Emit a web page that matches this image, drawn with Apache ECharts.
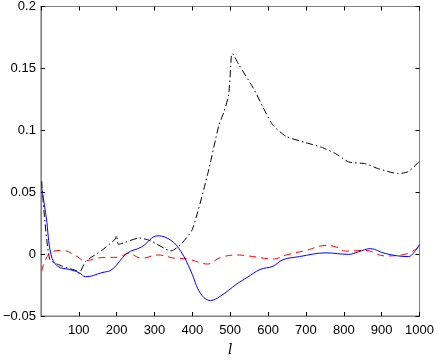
<!DOCTYPE html>
<html>
<head>
<meta charset="utf-8">
<script src="https://cdn.jsdelivr.net/npm/echarts@6/dist/echarts.min.js"></script>
<style>
  html, body { margin: 0; padding: 0; background: #fff; }
  #chart { width: 437px; height: 362px; }
</style>
</head>
<body>
<div id="chart"></div>
<script>
// black dash-dot curve
let blackL = [2, 23, 57, 96, 100, 118, 161, 196, 200, 205, 260, 288, 344, 370, 400, 440, 470, 483, 496, 503, 505, 522, 561, 596, 613, 648, 700, 744, 779, 813, 857, 891, 944, 970, 1000]
let blackV = [0.059, -0.004, -0.0098, -0.0137, -0.016, -0.006, 0.003, 0.012, 0.015, 0.008, 0.013, 0.011, 0.0026, 0.008, 0.02, 0.064, 0.104, 0.1145, 0.129, 0.16, 0.162, 0.1534, 0.134, 0.113, 0.104, 0.095, 0.090, 0.086, 0.081, 0.0744, 0.073, 0.069, 0.065, 0.0666, 0.075]

// red dashed curve
let redL = [2, 23, 57, 96, 114, 161, 205, 231, 266, 309, 353, 388, 440, 474, 518, 561, 613, 648, 700, 753, 779, 805, 857, 909, 961, 1000]
let redV = [-0.0137, 0.0005, 0.003, -0.002, -0.0054, -0.0028, -0.0025, 0.0005, -0.0033, -0.0007, -0.0033, -0.004, -0.008, -0.0028, -0.0007, -0.002, -0.004, -0.0007, 0.003, 0.007, 0.0058, 0.0024, 0.003, -0.0015, -0.0002, 0.006]

// blue solid curve
let blueL = [2, 14, 27, 44, 75, 101, 118, 161, 188, 227, 266, 309, 344, 370, 396, 422, 448, 474, 518, 544, 579, 613, 639, 683, 753, 813, 839, 870, 909, 970, 987, 1000]
let blueV = [0.0537, 0.030, -0.0007, -0.0098, -0.0124, -0.015, -0.0183, -0.015, -0.0124, 0.0005, 0.0058, 0.0148, 0.011, 0.002, -0.0137, -0.032, -0.0375, -0.034, -0.024, -0.019, -0.0124, -0.0098, -0.0046, -0.002, 0.001, -0.0002, 0.0019, 0.0044, 0.0005, -0.002, 0.002, 0.008]

function pairs(xs, ys) {
    return xs.map((x, i) => [x, ys[i]])
}

let font = 'Liberation Sans, Arial, sans-serif'
let chart = echarts.init(document.getElementById('chart'))

let option = {
    animation: false,
    grid: { left: 39, right: 16, top: 5, bottom: 35, show: true, borderColor: '#808080', borderWidth: 1 },
    xAxis: [{
        type: 'value', min: 0, max: 1000, interval: 100,
        name: 'l', nameLocation: 'middle', nameGap: 27,
        nameTextStyle: { fontFamily: 'DejaVu Serif, serif', fontStyle: 'italic', fontSize: 14, color: '#000' },
        axisLine: { show: true, onZero: false, lineStyle: { color: '#808080' } },
        axisTick: { inside: true, length: 4, lineStyle: { color: '#000' } },
        axisLabel: { showMinLabel: false, color: '#000', fontFamily: font, fontSize: 13, margin: 8, formatter: v => String(v) },
        splitLine: { show: false }
    }, {
        type: 'value', min: 0, max: 1000, interval: 100, position: 'top',
        axisLine: { show: true, onZero: false, lineStyle: { color: '#808080' } },
        axisTick: { inside: true, length: 4, lineStyle: { color: '#000' } },
        axisLabel: { show: false },
        splitLine: { show: false }
    }],
    yAxis: [{
        type: 'value', min: -0.05, max: 0.2, interval: 0.05,
        axisLine: { show: true, onZero: false, lineStyle: { color: '#808080' } },
        axisTick: { show: true, inside: true, length: 4, lineStyle: { color: '#000' } },
        axisLabel: {
            color: '#000', fontFamily: font, fontSize: 13, margin: 5,
            formatter: v => v < 0 ? '\u2212' + String(Math.abs(+v.toFixed(2))) : String(+v.toFixed(2))
        },
        splitLine: { show: false }
    }, {
        type: 'value', min: -0.05, max: 0.2, interval: 0.05, position: 'right',
        axisLine: { show: true, onZero: false, lineStyle: { color: '#808080' } },
        axisTick: { show: true, inside: true, length: 4, lineStyle: { color: '#000' } },
        axisLabel: { show: false },
        splitLine: { show: false }
    }],
    series: [{
        type: 'line', data: pairs(blackL, blackV), showSymbol: false, smooth: 0.2,
        lineStyle: { color: '#000', width: 1, type: [7, 3, 1.5, 3] }
    }, {
        type: 'line', data: pairs(redL, redV), showSymbol: false, smooth: 0.4,
        lineStyle: { color: '#ff0000', width: 1, type: [7, 5] }
    }, {
        type: 'line', data: pairs(blueL, blueV), showSymbol: false, smooth: 0.4,
        lineStyle: { color: '#0000ff', width: 1 }
    }]
}
chart.setOption(option)
</script>
</body>
</html>
